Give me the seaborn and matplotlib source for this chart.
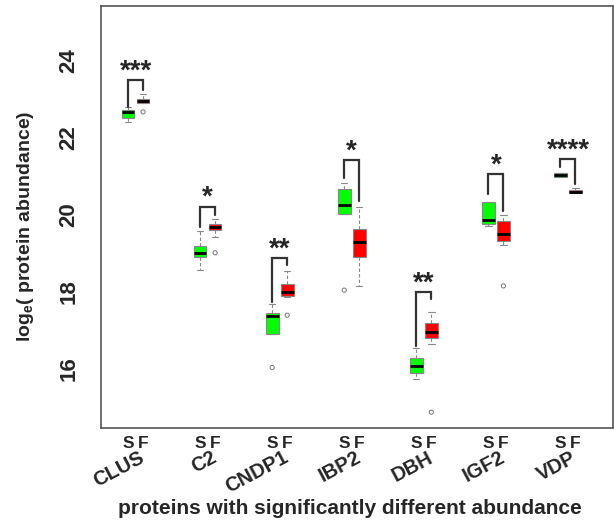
import numpy as np
import pandas as pd
import matplotlib
matplotlib.use("Agg")
import matplotlib.pyplot as plt
import matplotlib.transforms as mtransforms
import seaborn as sns

# Proteins and five-number summaries (whisker low, q1, median, q3, whisker high)
proteins = ["CLUS", "C2", "CNDP1", "IBP2", "DBH", "IGF2", "VDP"]

s_low = [22.42, 18.57, 16.90, 20.04, 15.73, 19.72, 20.99]
s_q1 = [22.53, 18.91, 16.90, 20.04, 15.90, 19.78, 20.99]
s_med = [22.68, 19.02, 17.38, 20.26, 16.09, 19.87, 21.04]
s_q3 = [22.73, 19.20, 17.45, 20.67, 16.29, 20.35, 21.09]
s_high = [22.80, 19.59, 17.69, 20.84, 16.56, 20.35, 21.09]

f_low = [22.90, 19.42, 17.88, 18.17, 16.65, 19.21, 20.57]
f_q1 = [22.90, 19.60, 17.90, 18.90, 16.82, 19.32, 20.57]
f_med = [22.96, 19.69, 18.01, 19.29, 16.97, 19.52, 20.61]
f_q3 = [23.01, 19.76, 18.21, 19.63, 17.19, 19.85, 20.65]
f_high = [23.14, 19.89, 18.55, 20.22, 17.47, 20.00, 20.71]

# Outliers: (protein, group, value)
out_protein = ["CNDP1", "IBP2", "CLUS", "C2", "CNDP1", "DBH", "IGF2"]
out_group = ["S", "S", "F", "F", "F", "F", "F"]
out_value = [16.04, 18.05, 22.68, 19.02, 17.40, 14.88, 18.16]

# Significance brackets
stars = ["***", "*", "**", "*", "**", "*", "****"]
bracket_top = [23.51, 20.22, 18.88, 21.43, 18.00, 21.06, 21.45]
bracket_left = [22.81, 19.70, 17.75, 20.96, 16.60, 20.55, 21.25]
bracket_right = [23.26, 20.00, 18.70, 20.37, 17.82, 20.11, 20.82]

group_gap = 4.8
pos_s = {p: i * group_gap for i, p in enumerate(proteins)}
pos_f = {p: i * group_gap + 1 for i, p in enumerate(proteins)}

# Long table: each box is built from its five summary values
rows = []
for i, p in enumerate(proteins):
    for v in [s_low[i], s_q1[i], s_med[i], s_q3[i], s_high[i]]:
        rows.append({"protein": p, "group": "S", "pos": pos_s[p], "value": v})
    for v in [f_low[i], f_q1[i], f_med[i], f_q3[i], f_high[i]]:
        rows.append({"protein": p, "group": "F", "pos": pos_f[p], "value": v})
df = pd.DataFrame(rows)

outliers = pd.DataFrame({"protein": out_protein, "group": out_group, "value": out_value})
outliers["pos"] = [pos_s[p] if g == "S" else pos_f[p] for p, g in zip(out_protein, out_group)]

sns.set_style("white")
plt.rcParams["font.family"] = ["Liberation Sans", "DejaVu Sans"]
plt.rcParams["mathtext.fontset"] = "custom"
plt.rcParams["mathtext.rm"] = "Liberation Sans"
plt.rcParams["mathtext.bf"] = "Liberation Sans:bold"

fig = plt.figure(figsize=(6.14, 5.21), dpi=100)
ax = fig.add_axes([101 / 614, 1 - 428 / 521, 512 / 614, 422 / 521])

sns.boxplot(data=df, x="pos", y="value", hue="group", native_scale=True,
            palette={"S": "#00ff00", "F": "#ff0000"}, saturation=1, whis=(0, 100),
            width=0.85, linecolor="#888888", linewidth=0.8, showfliers=False,
            medianprops={"color": "black", "linewidth": 2.0},
            whiskerprops={"linestyle": (0, (3, 2))},
            legend=False, ax=ax)

sns.scatterplot(data=outliers, x="pos", y="value", marker="o", s=9,
                facecolor="none", edgecolor="#777777", linewidth=0.7,
                legend=False, ax=ax)

# Brackets and stars
for i, p in enumerate(proteins):
    xs, xf = pos_s[p], pos_f[p]
    ax.plot([xs, xs, xf, xf], [bracket_left[i], bracket_top[i], bracket_top[i], bracket_right[i]],
            color="#333333", lw=1.6, solid_joinstyle="miter")
    ax.text((xs + xf) / 2, bracket_top[i] + 0.04, stars[i], ha="center", va="baseline",
            fontsize=20, fontweight="bold")

ax.set_xlim(-1.8, 32.3)
ax.set_ylim(14.47, 25.43)

ticks = [pos_s[p] for p in proteins] + [pos_f[p] for p in proteins]
ax.set_xticks(ticks)
ax.set_xticklabels(["S"] * len(proteins) + ["F"] * len(proteins),
                   fontsize=12.5, fontweight="bold")
ax.set_yticks([16, 18, 20, 22, 24])
ax.set_yticklabels(["16", "18", "20", "22", "24"], rotation=90, va="center",
                   fontsize=16, fontweight="bold")
ax.tick_params(axis="x", length=5, width=0.8, color="#666666", pad=1)
ax.tick_params(axis="y", length=8, width=0.8, color="#666666", pad=7.5)
ax.set_xlabel("")
ax.set_ylabel("")

for sp in ax.spines.values():
    sp.set_visible(True)
    sp.set_color("#555555")
    sp.set_linewidth(1.2)

# Protein names below the S/F labels
trans = mtransforms.blended_transform_factory(ax.transData, ax.transAxes)
for p in proteins:
    ax.text(pos_f[p] - 0.3, -0.047, p, transform=trans, rotation=28,
            rotation_mode="anchor", ha="right", va="top",
            fontsize=14.5, fontweight="bold")

fig.text(350 / 614, 1 - 508 / 521, "proteins with significantly different abundance",
         ha="center", va="center", fontsize=15, fontweight="bold")
fig.text(26 / 614, 1 - 226 / 521, r"log$_\mathbf{e}$( protein abundance)",
         ha="center", va="center", rotation=90, fontsize=14, fontweight="bold")

fig.savefig("out.png", dpi=100)
